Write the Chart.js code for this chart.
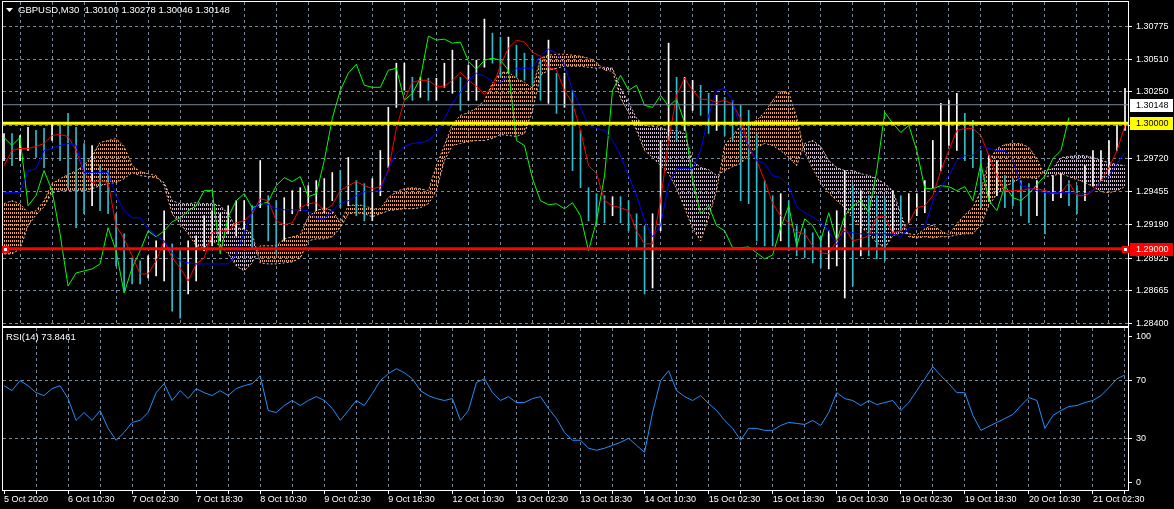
<!DOCTYPE html>
<html>
<head>
<meta charset="utf-8">
<script src="https://cdn.jsdelivr.net/npm/chart.js@4.4.0/dist/chart.umd.min.js"></script>
<style>
  html, body { margin: 0; padding: 0; background: #000; overflow: hidden; }
  #wrap { position: relative; width: 1174px; height: 509px; background: #000; }
  #mainChart { position: absolute; left: 0; top: 0; }
  #rsiChart { position: absolute; left: 0; top: 326px; }
</style>
</head>
<body>
<div id="wrap">
  <canvas id="mainChart" width="1174" height="328"></canvas>
  <canvas id="rsiChart" width="1174" height="183"></canvas>
</div>
<script>
// one sample every 4 bars (M30), 562 bars on screen
const STEP = 4;
const TOTAL_BARS = 562;

const TITLE = "GBPUSD,M30  1.30100 1.30278 1.30046 1.30148";
const RSI_TITLE = "RSI(14) 73.8461";

// x labels every 32 bars
const xLabels = ["5 Oct 2020", "6 Oct 10:30", "7 Oct 02:30", "7 Oct 18:30", "8 Oct 10:30",
  "9 Oct 02:30", "9 Oct 18:30", "12 Oct 10:30", "13 Oct 02:30", "13 Oct 18:30", "14 Oct 10:30",
  "15 Oct 02:30", "15 Oct 18:30", "16 Oct 10:30", "19 Oct 02:30", "19 Oct 18:30",
  "20 Oct 10:30", "21 Oct 02:30"];

const priceTicks = [1.28400, 1.28665, 1.28925, 1.29190, 1.29455, 1.29720, 1.29985, 1.30250, 1.30510, 1.30775];
const rsiTicks = [0, 30, 70, 100];
const rsiLevels = [30, 70];
const levelValues = [1.30148, 1.30000, 1.29000];   // bid, yellow, red

const highs = [
  1.29919,1.29919,1.29903,1.29967,1.29943,1.29959,1.29999,1.29983,1.30079,1.29967,
  1.29839,1.29823,1.29663,1.29623,1.29279,1.29119,1.28927,1.28903,1.28943,1.29063,
  1.29303,1.29039,1.28983,1.29063,1.29103,1.29263,1.29303,1.29279,1.29343,1.29383,
  1.29383,1.29343,1.29703,1.29423,1.29383,1.29407,1.29463,1.29487,1.29503,1.29543,
  1.29559,1.29607,1.29623,1.29727,1.29543,1.29519,1.29559,1.29783,1.30127,1.30479,
  1.30479,1.30367,1.30367,1.30359,1.30359,1.30479,1.30583,1.30367,1.30463,1.30503,
  1.30831,1.30719,1.30687,1.30687,1.30623,1.30559,1.30543,1.30503,1.30663,1.30399,
  1.30399,1.30263,1.29943,1.29487,1.29439,1.29423,1.29415,1.29415,1.29383,1.29279,
  1.29183,1.29279,1.29863,1.30639,1.30367,1.30367,1.30343,1.30303,1.30239,1.30223,
  1.30207,1.30183,1.30143,1.30103,1.29919,1.29543,1.29423,1.29439,1.29383,1.29183,
  1.29159,1.29127,1.29103,1.29143,1.29303,1.29623,1.29503,1.29463,1.29423,1.29423,
  1.29407,1.29463,1.29423,1.29439,1.29439,1.29543,1.29863,1.30159,1.30183,1.30239,
  1.30079,1.30023,1.29783,1.29743,1.29703,1.29583,1.29559,1.29543,1.29519,1.29543,
  1.29463,1.29583,1.29599,1.29543,1.29503,1.29663,1.29783,1.29783,1.29863,1.29983,1.30278
];
const lows = [
  1.29703,1.29663,1.29703,1.29783,1.29727,1.29647,1.29863,1.29703,1.29487,1.29167,
  1.29279,1.29343,1.29303,1.29279,1.28863,1.28663,1.28719,1.28719,1.28767,1.28783,
  1.28743,1.28503,1.28447,1.28639,1.28743,1.28983,1.29023,1.29063,1.29119,1.29103,
  1.29159,1.29007,1.29327,1.29063,1.28959,1.29063,1.29279,1.29303,1.29343,1.29303,
  1.29287,1.29383,1.29327,1.29343,1.29263,1.29223,1.29223,1.29423,1.29647,1.30127,
  1.30263,1.30183,1.30207,1.30183,1.30183,1.30287,1.30239,1.30103,1.30183,1.30183,
  1.30447,1.30479,1.30367,1.30399,1.30367,1.30343,1.30303,1.30183,1.30159,1.30079,
  1.30127,1.29623,1.29487,1.29223,1.29199,1.29207,1.29263,1.29207,1.29143,1.29007,
  1.28639,1.28687,1.29143,1.29863,1.29863,1.29943,1.30103,1.30063,1.29919,1.29943,
  1.29903,1.29863,1.29383,1.29359,1.29063,1.29023,1.29023,1.29063,1.28983,1.28943,
  1.28927,1.28887,1.28847,1.28839,1.28863,1.28607,1.28703,1.28943,1.28943,1.28919,
  1.28903,1.29127,1.29143,1.29207,1.29263,1.29287,1.29487,1.29623,1.29823,1.29783,
  1.29703,1.29647,1.29327,1.29383,1.29423,1.29327,1.29343,1.29263,1.29207,1.29263,
  1.29119,1.29383,1.29407,1.29343,1.29279,1.29383,1.29503,1.29543,1.29583,1.29783,1.29943
];
const chikou = [
  1.29887,1.29823,1.29887,1.29343,1.29423,1.29623,1.29463,1.29119,1.28703,1.28807,
  1.28823,1.28839,1.28879,1.29167,1.28983,1.28647,1.28847,1.28983,1.29143,1.29095,
  1.29143,1.29215,1.29247,1.29303,1.29343,1.29463,1.29463,1.28959,1.29255,1.29383,
  1.29439,1.29327,1.29351,1.29375,1.29503,1.29567,1.29535,1.29575,1.29415,1.29439,
  1.29703,1.30039,1.30263,1.30399,1.30471,1.30303,1.30287,1.30287,1.30423,1.30439,
  1.30183,1.30239,1.30359,1.30695,1.30663,1.30671,1.30639,1.30647,1.30495,1.30431,
  1.30503,1.30519,1.30503,1.30423,1.29863,1.29823,1.29559,1.29383,1.29351,1.29359,
  1.29319,1.29367,1.29263,1.28983,1.29223,1.29583,1.30263,1.30383,1.30263,1.30303,
  1.30143,1.30127,1.30223,1.30135,1.30191,1.30007,1.29543,1.29279,1.29343,1.29183,
  1.29143,1.29007,1.29007,1.29015,1.28967,1.28919,1.28951,1.29167,1.29343,1.29023,
  1.29239,1.29183,1.29063,1.29287,1.29063,1.29263,1.29343,1.29383,1.29287,1.29623,
  1.30087,1.29999,1.29927,1.29983,1.29783,1.29479,1.29479,1.29503,1.29495,1.29463,
  1.29495,1.29383,1.29679,1.29383,1.29303,1.29503,1.29407,1.29383,1.29439,1.29511,
  1.29583,1.29719,1.29783,1.30047,null,null,null,null,null,null,null
];
const tenkan = [
  1.29663,1.29783,1.29799,1.29799,1.29815,1.29839,1.29903,1.29911,1.29895,1.29783,
  1.29607,1.29527,1.29543,1.29527,1.29183,1.29079,1.28943,1.28799,1.28799,1.28903,
  1.29063,1.28927,1.28847,1.28743,1.28879,1.28927,1.29127,1.29143,1.29143,1.29207,
  1.29223,1.29279,1.29399,1.29383,1.29223,1.29191,1.29207,1.29327,1.29359,1.29367,
  1.29303,1.29351,1.29463,1.29503,1.29535,1.29503,1.29479,1.29495,1.29623,1.29959,
  1.30183,1.30327,1.30343,1.30343,1.30295,1.30295,1.30343,1.30407,1.30343,1.30295,
  1.30231,1.30279,1.30463,1.30599,1.30663,1.30647,1.30567,1.30535,1.30447,1.30423,
  1.30263,1.30159,1.29943,1.29663,1.29599,1.29383,1.29343,1.29327,1.29303,1.29143,
  1.29039,1.29039,1.29383,1.29863,1.30223,1.30359,1.30263,1.30191,1.30191,1.30167,
  1.30183,1.30151,1.30039,1.29807,1.29703,1.29543,1.29359,1.29263,1.29207,1.29135,
  1.29119,1.29023,1.28967,1.28959,1.29063,1.29167,1.29063,1.29079,1.29103,1.29255,
  1.29255,1.29127,1.29143,1.29207,1.29327,1.29343,1.29423,1.29623,1.29783,1.29943,
  1.29959,1.29959,1.29903,1.29743,1.29583,1.29463,1.29463,1.29463,1.29479,1.29479,
  1.29463,1.29439,1.29447,1.29527,1.29423,1.29423,1.29463,1.29543,1.29647,1.29783,1.29983
];
const kijun = [
  1.29447,1.29447,1.29447,1.29623,1.29639,1.29783,1.29799,1.29823,1.29839,1.29823,
  1.29607,1.29607,1.29607,1.29607,1.29423,1.29303,1.29247,1.29247,1.29159,1.29103,
  1.29063,1.28967,1.28903,1.28887,1.28879,1.28879,1.28879,1.28879,1.28879,1.28959,
  1.29127,1.29303,1.29367,1.29351,1.29319,1.29311,1.29311,1.29311,1.29303,1.29239,
  1.29239,1.29303,1.29359,1.29383,1.29423,1.29455,1.29455,1.29463,1.29639,1.29759,
  1.29815,1.29839,1.29847,1.29863,1.29919,1.30039,1.30159,1.30247,1.30343,1.30399,
  1.30375,1.30335,1.30327,1.30383,1.30439,1.30439,1.30439,1.30543,1.30591,1.30559,
  1.30463,1.30263,1.30127,1.29983,1.29959,1.29943,1.29863,1.29743,1.29583,1.29423,
  1.29223,1.29095,1.29183,1.29519,1.29639,1.29639,1.29639,1.29783,1.30063,1.30263,
  1.30279,1.30183,1.29943,1.29815,1.29703,1.29679,1.29583,1.29567,1.29503,1.29335,
  1.29287,1.29255,1.29207,1.29143,1.29031,1.29143,1.29127,1.29119,1.29119,1.29119,
  1.29119,1.29119,1.29095,1.29167,1.29167,1.29175,1.29383,1.29487,1.29583,1.29703,
  1.29743,1.29743,1.29815,1.29799,1.29783,1.29783,1.29703,1.29503,1.29487,1.29463,
  1.29447,1.29447,1.29447,1.29447,1.29439,1.29439,1.29463,1.29527,1.29583,1.29679,1.29767
];
const spanA = [
  1.29359,1.29383,1.29359,1.29287,1.29303,1.29383,1.29519,1.29559,1.29591,1.29623,
  1.29663,1.29743,1.29847,1.29863,1.29879,1.29815,1.29663,1.29615,1.29599,1.29583,
  1.29503,1.29279,1.29199,1.29119,1.29023,1.29007,1.29063,1.29023,1.28959,1.28863,
  1.28823,1.28887,1.29023,1.29023,1.29023,1.29079,1.29095,1.29111,1.29255,1.29303,
  1.29327,1.29303,1.29207,1.29343,1.29351,1.29343,1.29319,1.29319,1.29407,1.29455,
  1.29479,1.29487,1.29479,1.29463,1.29663,1.29823,1.29991,1.30063,1.30087,1.30119,
  1.30183,1.30319,1.30407,1.30407,1.30359,1.30327,1.30279,1.30519,1.30543,1.30551,
  1.30551,1.30543,1.30535,1.30519,1.30487,1.30423,1.30415,1.30199,1.30087,1.29943,
  1.29783,1.29727,1.29663,1.29599,1.29479,1.29327,1.29159,1.29063,1.29247,1.29463,
  1.29823,1.29903,1.29983,1.29999,1.30023,1.30087,1.30183,1.30255,1.30247,1.30047,
  1.29767,1.29639,1.29519,1.29447,1.29383,1.29327,1.29239,1.29175,1.29119,1.29047,
  1.29007,1.29103,1.29127,1.29119,1.29111,1.29159,1.29191,1.29143,1.29111,1.29199,
  1.29271,1.29327,1.29463,1.29703,1.29799,1.29831,1.29839,1.29839,1.29807,1.29719,
  1.29575,1.29583,1.29599,1.29575,1.29551,1.29527,1.29495,1.29455,1.29447,1.29463,1.29495
];
const spanB = [
  1.28959,1.28959,1.28999,1.29183,1.29271,1.29335,1.29447,1.29463,1.29463,1.29463,
  1.29463,1.29479,1.29503,1.29519,1.29527,1.29559,1.29607,1.29583,1.29575,1.29567,
  1.29527,1.29383,1.29359,1.29359,1.29367,1.29359,1.29359,1.29343,1.29279,1.29167,
  1.29159,1.29119,1.28887,1.28879,1.28879,1.28887,1.28895,1.28927,1.29063,1.29079,
  1.29079,1.29095,1.29167,1.29279,1.29287,1.29279,1.29255,1.29279,1.29303,1.29311,
  1.29319,1.29319,1.29327,1.29359,1.29463,1.29703,1.29823,1.29839,1.29855,1.29863,
  1.29863,1.29879,1.29911,1.29903,1.29895,1.29919,1.30103,1.30383,1.30423,1.30439,
  1.30455,1.30455,1.30455,1.30447,1.30439,1.30447,1.30439,1.30279,1.30167,1.30039,
  1.29983,1.29975,1.29967,1.29943,1.29943,1.29919,1.29703,1.29647,1.29631,1.29583,
  1.29623,1.29655,1.29679,1.29743,1.29807,1.29839,1.29823,1.29783,1.29727,1.29663,
  1.29839,1.29863,1.29815,1.29703,1.29647,1.29623,1.29623,1.29599,1.29583,1.29559,
  1.29519,1.29463,1.29279,1.29095,1.29087,1.29095,1.29087,1.29095,1.29095,1.29111,
  1.29119,1.29119,1.29191,1.29343,1.29439,1.29495,1.29527,1.29567,1.29567,1.29559,
  1.29623,1.29639,1.29727,1.29735,1.29743,1.29743,1.29727,1.29703,1.29687,1.29671,1.29663
];
const rsi = [
  66.4,63.0,69.9,66.4,61.6,59.6,64.4,66.4,57.5,42.5,
  47.9,42.5,49.3,37.0,28.8,34.2,41.1,42.5,47.9,61.6,
  67.8,56.2,63.0,57.5,64.4,61.6,59.6,63.0,59.6,64.4,
  66.4,67.8,73.3,49.3,47.9,52.7,56.2,52.7,56.2,58.9,
  56.2,50.7,42.5,49.3,56.2,52.7,61.0,69.9,74.7,78.1,
  75.3,71.2,63.0,59.6,57.5,56.2,57.5,42.5,49.3,68.5,
  71.2,61.6,56.2,58.9,54.8,54.8,57.5,58.9,50.7,43.8,
  34.2,28.8,28.8,23.3,21.9,23.3,25.3,27.4,30.1,25.3,
  20.5,47.9,69.9,76.7,63.0,58.9,56.2,59.6,54.1,49.3,
  42.5,37.0,28.8,37.0,37.0,35.6,35.6,39.0,41.1,40.4,
  39.7,42.5,39.0,47.9,61.6,57.5,56.2,52.7,56.2,53.4,
  54.8,56.2,49.3,54.8,63.0,71.2,79.5,73.3,67.8,61.6,
  61.6,45.9,35.6,38.4,41.1,43.8,46.6,52.7,58.2,56.2,
  37.0,45.9,49.3,52.1,52.7,54.8,56.2,59.6,65.1,71.2,73.8
];

const GRID = "#778899";
const FONT_FAMILY = '"Liberation Sans", Arial, sans-serif';
const FONT = "9.5px " + FONT_FAMILY;
const levelStyles = [
  { line: "#778899", box: "#ffffff", text: "#000000", width: 1 },
  { line: "#ffff00", box: "#ffff00", text: "#000000", width: 3 },
  { line: "#ff0000", box: "#ff0000", text: "#ffffff", width: 3 }
];

Chart.defaults.font.family = FONT_FAMILY;
Chart.defaults.font.size = 9;
Chart.defaults.color = "#ffffff";

const pts = arr => arr.map((v, k) => ({ x: k * STEP, y: v }));

// dotted hatch used by MT4 for the kumo
function hatch(color) {
  const c = document.createElement("canvas");
  c.width = 2; c.height = 4;
  const g = c.getContext("2d");
  g.fillStyle = color;
  g.fillRect(0, 0, 1, 2);
  return g.createPattern(c, "repeat");
}

function gridTicks() {
  const t = [];
  for (let i = 0; i < TOTAL_BARS; i += 16) t.push({ value: i });
  return t;
}

// no extra room for half labels at the ends of the axes
function noPad(s) {
  s.paddingTop = 0; s.paddingBottom = 0; s.paddingLeft = 0; s.paddingRight = 0;
}

const barColors = highs.map((h, k) => {
  if (k === 0) return "#ffffff";
  return (h + lows[k]) >= (highs[k - 1] + lows[k - 1]) ? "#ffffff" : "#30bccc";
});

// frame, title, level price boxes
const mainOverlay = {
  id: "mainOverlay",
  afterDraw(chart) {
    const { ctx, chartArea: a } = chart;
    const y = chart.scales.y;
    ctx.save();
    ctx.strokeStyle = "#ffffff";
    ctx.lineWidth = 1;
    ctx.strokeRect(a.left - 0.5, a.top - 0.5, a.right - a.left + 1, a.bottom - a.top + 1);

    ctx.fillStyle = "#ffffff";
    ctx.beginPath();
    ctx.moveTo(6, 8); ctx.lineTo(13, 8); ctx.lineTo(9.5, 12); ctx.closePath();
    ctx.fill();
    ctx.font = FONT;
    ctx.textBaseline = "middle";
    ctx.fillText(TITLE, 18, 10);

    ctx.font = "9px " + FONT_FAMILY;
    levelValues.forEach((v, i) => {
      const s = levelStyles[i];
      const py = Math.round(y.getPixelForValue(v));
      ctx.fillStyle = s.box;
      ctx.fillRect(a.right + 2, py - 6, 43, 13);
      ctx.fillStyle = s.text;
      ctx.fillText(v.toFixed(5), a.right + 8, py + 1);
    });

    // selection handles on the red line
    const ry = Math.round(y.getPixelForValue(levelValues[2]));
    [a.left + 2, a.right - 3].forEach(px => {
      ctx.fillStyle = "#ff0000";
      ctx.fillRect(px - 3, ry - 3, 7, 7);
      ctx.fillStyle = "#ffffff";
      ctx.fillRect(px - 1, ry - 1, 3, 3);
    });
    ctx.restore();
  }
};

const rsiOverlay = {
  id: "rsiOverlay",
  afterDraw(chart) {
    const { ctx, chartArea: a } = chart;
    ctx.save();
    ctx.strokeStyle = "#ffffff";
    ctx.lineWidth = 1;
    ctx.strokeRect(a.left - 0.5, a.top - 0.5, a.right - a.left + 1, a.bottom - a.top + 1);
    ctx.fillStyle = "#ffffff";
    ctx.font = FONT;
    ctx.textBaseline = "middle";
    ctx.fillText(RSI_TITLE, 6, a.top + 9);
    ctx.restore();
  }
};

const line = (data, color, order, extra) => Object.assign({
  type: "line", data, borderColor: color, borderWidth: 1, pointRadius: 0,
  tension: 0, fill: false, spanGaps: false, order
}, extra || {});

const hline = (v, i) => line([{ x: -1, y: v }, { x: TOTAL_BARS, y: v }],
  levelStyles[i].line, 0, { borderWidth: levelStyles[i].width });

new Chart(document.getElementById("mainChart"), {
  type: "line",
  data: {
    datasets: [
      line(pts(spanA), "#f4a460", 10, {
        borderDash: [2, 2],
        fill: { target: 1, above: hatch("#f4a460"), below: hatch("#d8bfd8") }
      }),
      line(pts(spanB), "#d8bfd8", 10, { borderDash: [2, 2] }),
      {
        type: "bar",
        data: highs.map((h, k) => ({ x: k * STEP, y: [lows[k], h] })),
        backgroundColor: barColors,
        barThickness: 1,
        grouped: false,
        order: 5
      },
      line(pts(chikou), "#00ff00", 3),
      line(pts(kijun), "#0000ff", 2),
      line(pts(tenkan), "#ff0000", 2),
      ...levelValues.map(hline)
    ]
  },
  options: {
    responsive: false,
    animation: false,
    devicePixelRatio: 1,
    events: [],
    layout: { padding: { left: 3, right: 0, top: 2, bottom: 2 } },
    plugins: { legend: { display: false }, tooltip: { enabled: false } },
    scales: {
      x: {
        type: "linear", min: -0.5, max: TOTAL_BARS - 0.5, offset: false,
        afterBuildTicks: s => { s.ticks = gridTicks(); },
        afterFit: s => { s.height = 0; noPad(s); },
        ticks: { display: false },
        grid: {
          color: c => (c.tick && c.tick.value === 0) ? "rgba(0,0,0,0)" : GRID,
          drawTicks: false
        },
        border: { display: false, dash: [3, 3] }
      },
      y: {
        position: "right", min: 1.28384, max: 1.30967,
        afterBuildTicks: s => { s.ticks = priceTicks.map(v => ({ value: v })); },
        afterFit: s => { s.width = 46; noPad(s); },
        ticks: { color: "#ffffff", padding: 4, font: { size: 9 }, callback: v => v.toFixed(5) },
        grid: { color: GRID, tickColor: "#ffffff", tickLength: 4 },
        border: { display: false, dash: [3, 3] }
      }
    }
  },
  plugins: [mainOverlay]
});

new Chart(document.getElementById("rsiChart"), {
  type: "line",
  data: {
    datasets: [line(pts(rsi), "#1e90ff", 1)]
  },
  options: {
    responsive: false,
    animation: false,
    devicePixelRatio: 1,
    events: [],
    layout: { padding: { left: 3, right: 0, top: 2, bottom: 0 } },
    plugins: { legend: { display: false }, tooltip: { enabled: false } },
    scales: {
      x: {
        type: "linear", min: -0.5, max: TOTAL_BARS - 0.5, offset: false,
        afterBuildTicks: s => { s.ticks = gridTicks(); },
        afterFit: s => { s.height = 19; noPad(s); },
        ticks: {
          color: "#ffffff", padding: 0, align: "start", autoSkip: false,
          maxRotation: 0, minRotation: 0, font: { size: 9 },
          callback: v => (v % 32 === 0) ? (xLabels[v / 32] || "") : ""
        },
        grid: {
          color: c => (c.tick && c.tick.value === 0) ? "rgba(0,0,0,0)" : GRID,
          tickColor: "#ffffff", tickLength: 4
        },
        border: { display: false, dash: [3, 3] }
      },
      y: {
        position: "right", min: -5.48, max: 106.16,
        afterBuildTicks: s => { s.ticks = rsiTicks.map(v => ({ value: v })); },
        afterFit: s => { s.width = 46; noPad(s); },
        ticks: { color: "#ffffff", padding: 4, font: { size: 9 }, callback: v => String(v) },
        grid: {
          color: c => (c.tick && rsiLevels.includes(c.tick.value)) ? GRID : "rgba(0,0,0,0)",
          tickColor: "#ffffff", tickLength: 4
        },
        border: { display: false, dash: [3, 3] }
      }
    }
  },
  plugins: [rsiOverlay]
});
</script>
</body>
</html>
